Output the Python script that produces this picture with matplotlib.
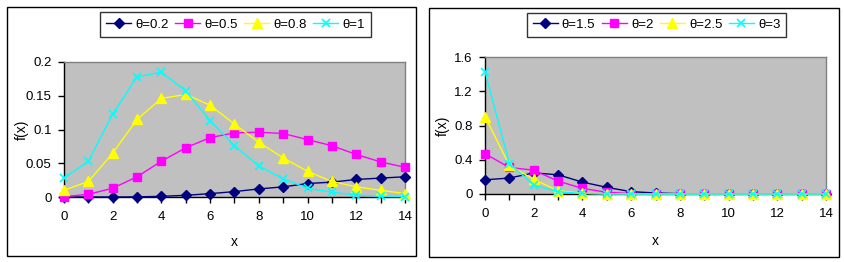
import matplotlib
matplotlib.use("Agg")
import matplotlib.pyplot as plt
from matplotlib.patches import Rectangle
import numpy as np

plt.rcParams['font.family'] = ['Liberation Sans', 'DejaVu Sans']
plt.rcParams['font.size'] = 9

x = list(range(15))

# Left panel
labels_left = ["θ=0.2", "θ=0.5", "θ=0.8", "θ=1"]
theta_02 = [0.0, 0.0, 0.0, 0.0002, 0.001, 0.0025, 0.005, 0.008, 0.012, 0.015, 0.020, 0.022, 0.026, 0.028, 0.030]
theta_05 = [0.0005, 0.004, 0.013, 0.030, 0.053, 0.073, 0.088, 0.095, 0.096, 0.094, 0.085, 0.076, 0.063, 0.052, 0.044]
theta_08 = [0.010, 0.023, 0.065, 0.115, 0.146, 0.152, 0.136, 0.108, 0.081, 0.058, 0.038, 0.023, 0.015, 0.010, 0.005]
theta_1 = [0.028, 0.053, 0.123, 0.178, 0.185, 0.157, 0.113, 0.076, 0.046, 0.027, 0.013, 0.007, 0.003, 0.001, 0.0005]

# Right panel
labels_right = ["θ=1.5", "θ=2", "θ=2.5", "θ=3"]
theta_15 = [0.166, 0.186, 0.247, 0.224, 0.139, 0.078, 0.027, 0.012, 0.004, 0.001, 0.0, 0.0, 0.0, 0.0, 0.0]
theta_2 = [0.47, 0.31, 0.278, 0.15, 0.066, 0.02, 0.005, 0.001, 0.0, 0.0, 0.0, 0.0, 0.0, 0.0, 0.0]
theta_25 = [0.904, 0.336, 0.17, 0.039, 0.008, 0.002, 0.0, 0.0, 0.0, 0.0, 0.0, 0.0, 0.0, 0.0, 0.0]
theta_3 = [1.43, 0.356, 0.104, 0.027, 0.006, 0.001, 0.0, 0.0, 0.0, 0.0, 0.0, 0.0, 0.0, 0.0, 0.0]

colors = ["#000080", "#FF00FF", "#FFFF00", "#00FFFF"]
markers = ["D", "s", "^", "x"]
msizes = [5, 6, 6.5, 6]

W, H = 844, 262
fig = plt.figure(figsize=(W / 100, H / 100), dpi=100)
fig.patch.set_facecolor("white")

def px_rect(x0, y0, x1, y1):
    return [x0 / W, 1 - y1 / H, (x1 - x0) / W, (y1 - y0) / H]

# panel borders
for (x0, y0, x1, y1) in [(7, 7, 416, 256), (429, 8, 839, 257)]:
    fig.patches.append(Rectangle((x0 / W, 1 - y1 / H), (x1 - x0) / W, (y1 - y0) / H,
                                 transform=fig.transFigure, fill=False,
                                 edgecolor="black", linewidth=1.0))

def make_panel(rect, series, labels, ylim, yticks, yticklabels, leg_rect, ylab_x, xlab_y):
    ax = fig.add_axes(px_rect(*rect))
    ax.set_facecolor("#C0C0C0")
    for s, lab, c, m, ms in zip(series, labels, colors, markers, msizes):
        ax.plot(x, s, color=c, marker=m, markersize=ms, linewidth=1.0, label=lab,
                markeredgecolor=c, markerfacecolor=c, markeredgewidth=1.0 if m != "x" else 1.2,
                clip_on=False, zorder=3)
    ax.set_xlim(0, 14)
    ax.set_ylim(*ylim)
    ax.set_yticks(yticks)
    ax.set_yticklabels(yticklabels)
    ax.set_xticks(list(range(0, 15, 2)))
    ax.set_xticks(x, minor=True)
    ax.tick_params(axis="x", which="both", direction="out", length=4, width=1, pad=6, colors="black",
                   labelsize=9.5)
    ax.tick_params(axis="y", which="both", direction="out", length=4, width=1, pad=5, colors="black",
                   labelsize=9.5)
    for sp in ["left", "bottom"]:
        ax.spines[sp].set_color("black")
        ax.spines[sp].set_linewidth(1.0)
    for sp in ["top", "right"]:
        ax.spines[sp].set_color("#808080")
        ax.spines[sp].set_linewidth(1.0)
    fig.text(ylab_x / W, 1 - (rect[1] + rect[3]) / 2 / H, "f(x)", rotation=90,
             ha="center", va="center", fontsize=10)
    fig.text(((rect[0] + rect[2]) / 2) / W, 1 - xlab_y / H, "x", ha="center", va="center", fontsize=10)
    lx0, ly0, lx1, ly1 = leg_rect
    leg = ax.legend(loc="center", bbox_to_anchor=((lx0 + lx1) / 2 / W, 1 - (ly0 + ly1) / 2 / H),
                    bbox_transform=fig.transFigure, ncol=4, frameon=True, fancybox=False,
                    edgecolor="black", handlelength=1.9, handletextpad=0.3, columnspacing=0.5,
                    borderpad=0.45, borderaxespad=0, fontsize=9.5)
    leg.get_frame().set_linewidth(1.0)
    return ax

make_panel((64, 62, 405, 197), [theta_02, theta_05, theta_08, theta_1], labels_left,
           (0, 0.2), [0, 0.05, 0.1, 0.15, 0.2], ["0", "0.05", "0.1", "0.15", "0.2"],
           (108, 11, 363, 38), 22, 242)
make_panel((485, 57, 826, 194), [theta_15, theta_2, theta_25, theta_3], labels_right,
           (0, 1.6), [0, 0.4, 0.8, 1.2, 1.6], ["0", "0.4", "0.8", "1.2", "1.6"],
           (522, 12, 791, 38), 443, 241)

fig.savefig("out.png", dpi=100)
